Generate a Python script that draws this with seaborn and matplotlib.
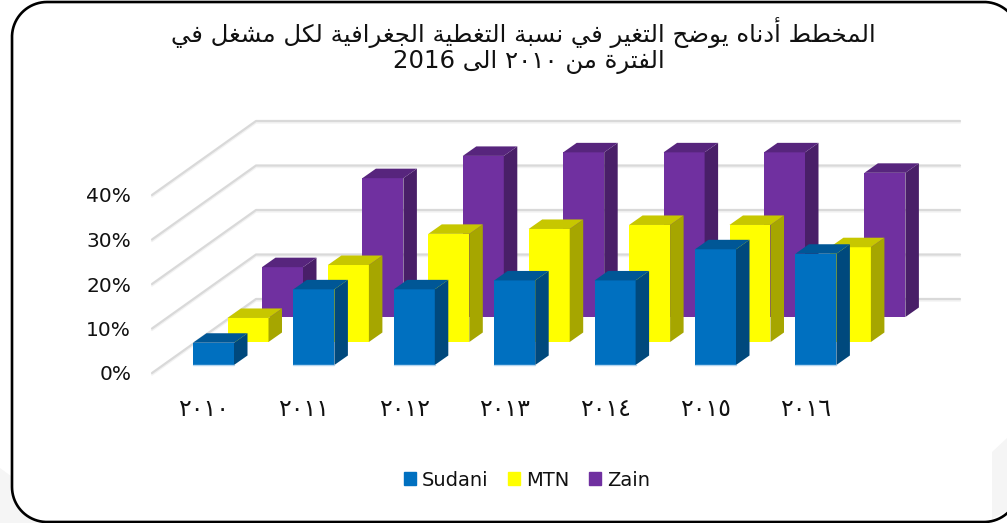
import numpy as np
import pandas as pd
import matplotlib
matplotlib.use('Agg')
import matplotlib.pyplot as plt
from matplotlib.patches import Polygon, Patch
from matplotlib.colors import to_rgb
import seaborn as sns

years = ['٢٠١٠', '٢٠١١', '٢٠١٢', '٢٠١٣', '٢٠١٤', '٢٠١٥', '٢٠١٦']
sudani = [5, 17, 17, 19, 19, 26, 25]
mtn = [5.4, 17.3, 24.3, 25.4, 26.3, 26.3, 21.3]
zain = [11.2, 31.2, 36.2, 37, 37, 37, 32.4]
y_ticks = [0, 10, 20, 30, 40]
title_lines = ['المخطط أدناه يوضح التغير في نسبة التغطية الجغرافية لكل مشغل في',
               'الفترة من ٢٠١٠ الى 2016']

W, H = 1007, 523
BAND = 100.4      # px per category
UNIT = 4.45       # px per percent


# matplotlib has no arabic shaping, so map to presentation forms and flip
FORMS = {'ا': 'ﺍﺎ', 'أ': 'ﺃﺄ', 'د': 'ﺩﺪ', 'ذ': 'ﺫﺬ', 'ر': 'ﺭﺮ', 'ز': 'ﺯﺰ', 'و': 'ﻭﻮ', 'ة': 'ﺓﺔ', 'ى': 'ﻯﻰ',
         'ب': 'ﺏﺐﺑﺒ', 'ت': 'ﺕﺖﺗﺘ', 'ج': 'ﺝﺞﺟﺠ', 'ح': 'ﺡﺢﺣﺤ', 'خ': 'ﺥﺦﺧﺨ', 'س': 'ﺱﺲﺳﺴ', 'ش': 'ﺵﺶﺷﺸ',
         'ض': 'ﺽﺾﺿﻀ', 'ط': 'ﻁﻂﻃﻄ', 'غ': 'ﻍﻎﻏﻐ', 'ف': 'ﻑﻒﻓﻔ', 'ك': 'ﻙﻚﻛﻜ', 'ل': 'ﻝﻞﻟﻠ', 'م': 'ﻡﻢﻣﻤ',
         'ن': 'ﻥﻦﻧﻨ', 'ه': 'ﻩﻪﻫﻬ', 'ي': 'ﻱﻲﻳﻴ', 'ع': 'ﻉﻊﻋﻌ'}


def shape_word(word):
    out = []
    for i, c in enumerate(word):
        f = FORMS[c]
        prev_joins = i > 0 and len(FORMS[word[i - 1]]) == 4
        next_joins = i < len(word) - 1 and len(f) == 4
        if prev_joins and next_joins:
            out.append(f[3])
        elif next_joins:
            out.append(f[2])
        elif prev_joins:
            out.append(f[1])
        else:
            out.append(f[0])
    s = ''.join(out)
    return s.replace('ﻟﺎ', 'ﻻ').replace('ﻠﺎ', 'ﻼ')


def shape_line(line):
    words = []
    for w in line.split(' '):
        words.append(shape_word(w)[::-1] if w[0] in FORMS else w)
    return ' '.join(words[::-1])


def frame_outline(left, top, bottom, right_c, r):
    # rounded outline, open on the right where it leaves the picture
    def arc(cx, cy, a0, a1):
        t = np.deg2rad(np.linspace(a0, a1, 40))
        return cx + r * np.cos(t), cy + r * np.sin(t)
    parts = [arc(right_c, bottom - r, 30, 90), arc(left + r, bottom - r, 90, 180),
             arc(left + r, top + r, 180, 270), arc(right_c, top + r, 270, 330)]
    return np.concatenate([p[0] for p in parts]), np.concatenate([p[1] for p in parts])


sns.set_theme(style='white')
plt.rcParams['font.family'] = ['DejaVu Sans']

fig = plt.figure(figsize=(W / 100, H / 100), dpi=100)


def px_axes(left, base, width, height):
    return fig.add_axes([left / W, 1 - base / H, width / W, height / H])


# frame and the faint slide background behind it
bg = fig.add_axes([0, 0, 1, 1])
bg.set_xlim(0, W)
bg.set_ylim(H, 0)
bg.axis('off')
fx, fy = frame_outline(12, 2, 522, 984, 35)
bg.add_patch(Polygon([(0, 468), (30, 490), (60, 523), (0, 523)], fc='#f5f5f5', ec='none', zorder=1))
bg.fill(fx, fy, color='white', lw=0, zorder=2)
bg.add_patch(Polygon([(1007, 438), (992, 452), (992, 519), (1007, 511)], fc='#f5f5f5', ec='none', zorder=3))
bg.plot(fx, fy, color='black', lw=1.9, zorder=4, clip_on=False)

# walls and gridlines, x in category units of the front row
wall = px_axes(152, 373, 808, 222.5)
x0 = (152 - 213.5) / BAND
wall.set_xlim(x0, x0 + 808 / BAND)
wall.set_ylim(0, 50)
wall.patch.set_alpha(0)
sns.despine(ax=wall, left=True, bottom=True)
depth_x = 104 / BAND
for v in y_ticks:
    back = v + 74 / UNIT
    wall.plot([x0, x0 + depth_x, x0 + 808 / BAND], [v - 0.35, back - 0.35, back - 0.35],
              color='#f2f2f2', lw=1.6, clip_on=False)
    wall.plot([x0, x0 + depth_x, x0 + 808 / BAND], [v, back, back],
              color='#d9d9d9', lw=1.6, clip_on=False)
wall.set_yticks(y_ticks)
wall.set_yticklabels([f'{v}%' for v in y_ticks], fontsize=14.5, color='#111111')
wall.set_xticks(np.arange(len(years)) - 0.1)
wall.set_xticklabels(years, fontsize=17, color='#111111')
wall.tick_params(axis='y', length=0, pad=15)
wall.tick_params(axis='x', length=0, pad=17)

rows = [
    ('Zain', zain, '#7030a0', 69, 48),
    ('MTN', mtn, '#ffff00', 34.5, 23),
    ('Sudani', sudani, '#0070c0', 0, 0),
]
dx, dy = 13.5 / BAND, 9.5 / UNIT
for name, vals, col, off_x, off_y in rows:
    ax = px_axes(213.5 - BAND / 2 + off_x, 365 - off_y, BAND * len(years), 222.5)
    df = pd.DataFrame({'year': years, 'share': vals})
    sns.barplot(df, x='year', y='share', color=col, saturation=1, width=41 / BAND, ax=ax, linewidth=0)
    ax.set_xlim(-0.5, len(years) - 0.5)
    ax.set_ylim(0, 50)
    ax.axis('off')
    rgb = np.array(to_rgb(col))
    for bar in ax.patches[:len(vals)]:
        l, w, h = bar.get_x(), bar.get_width(), bar.get_height()
        ax.add_patch(Polygon([(l + w, 0), (l + w + dx, dy), (l + w + dx, h + dy), (l + w, h)],
                             fc=rgb * 0.65, ec='none', clip_on=False, zorder=3))
        ax.add_patch(Polygon([(l, h), (l + dx, h + dy), (l + w + dx, h + dy), (l + w, h)],
                             fc=rgb * 0.78, ec='none', clip_on=False, zorder=3))
        if name == 'Sudani':
            # pale highlight along the foot of the front bars
            ax.plot([l, l + w], [0, 0], color='#b4d6f0', lw=1, clip_on=False, zorder=4)

# title
bg.text(523, 33, shape_line(title_lines[0]), ha='center', va='center', fontsize=17.6, color='#111111', zorder=5)
bg.text(529, 62, shape_line(title_lines[1]), ha='center', va='center', fontsize=17.6, color='#111111', zorder=5)

# legend
handles = [Patch(color=c, label=n) for n, _, c, _, _ in rows[::-1]]
leg = bg.legend(handles=handles, loc='center', bbox_to_anchor=(527 / W, 1 - 480 / H), ncol=3, frameon=False,
                fontsize=14, handlelength=0.62, handleheight=0.62, handletextpad=0.3, columnspacing=1.0,
                labelcolor='#111111')
leg.set_zorder(5)

fig.savefig('out.png', dpi=100)
